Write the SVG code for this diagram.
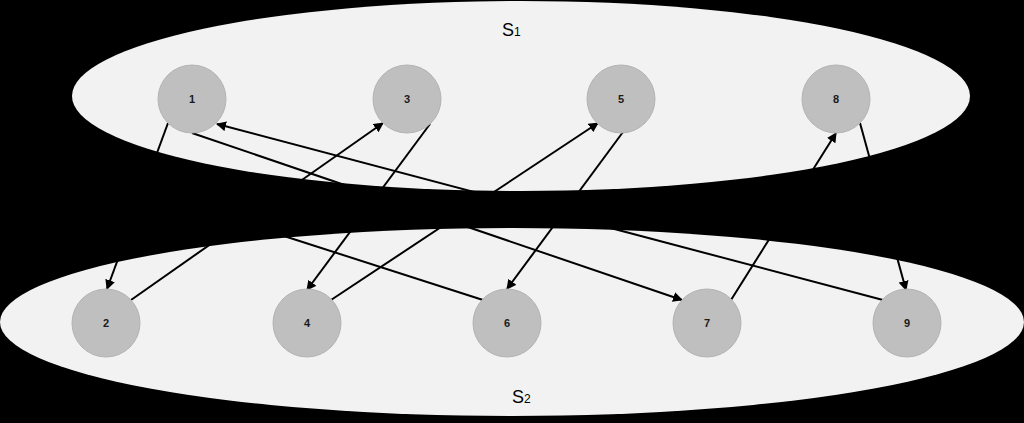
<svg xmlns="http://www.w3.org/2000/svg" width="1024" height="423" viewBox="0 0 1024 423">
<defs>
<style>
.set{fill:#f2f2f2;stroke:none}
.node circle{fill:#bfbfbf;stroke:#b3b3b3;stroke-width:1}
.node text{font-family:"Liberation Sans",Arial,sans-serif;font-size:11px;font-weight:bold;fill:#1a1a1a;text-anchor:middle}
.lbl{font-family:"Liberation Sans",Arial,sans-serif;font-size:18px;fill:#000}
.edge{stroke:#000;stroke-width:2;fill:none}
.arr{marker-end:url(#ah)}
</style>
<marker id="ah" viewBox="0 0 10 10" refX="9" refY="5" markerWidth="5" markerHeight="5" orient="auto" markerUnits="strokeWidth">
<path d="M0,0 L10,5 L0,10 z" fill="#000"/>
</marker>
</defs>
<rect x="0" y="0" width="1024" height="423" fill="#000"/>
<g id="set-s1">
<ellipse class="set" cx="521" cy="96" rx="449" ry="95"/>
<text class="lbl" x="502" y="36">S<tspan font-size="12">1</tspan></text>
</g>
<g id="set-s2">
<ellipse class="set" cx="512" cy="322" rx="512" ry="94"/>
<text class="lbl" x="512" y="403">S<tspan font-size="12">2</tspan></text>
</g>
<g id="connectors">
<line class="edge arr" x1="168" y1="123" x2="107" y2="289"/>
<line class="edge arr" x1="131" y1="300" x2="383" y2="123"/>
<line class="edge arr" x1="430" y1="124" x2="307" y2="290"/>
<line class="edge arr" x1="331" y1="300" x2="598" y2="123"/>
<line class="edge arr" x1="623" y1="132" x2="507" y2="289"/>
<line class="edge arr" x1="731" y1="300" x2="836" y2="133"/>
<line class="edge arr" x1="860" y1="123" x2="906" y2="290"/>
<line class="edge arr" x1="192" y1="133" x2="682" y2="300"/>
<line class="edge arr" x1="883" y1="300" x2="217" y2="124"/>
<line class="edge" x1="483" y1="300" x2="200" y2="209"/>
</g>
<g id="node-1" class="node"><circle cx="192" cy="99" r="34"/><text x="192" y="103">1</text></g>
<g id="node-3" class="node"><circle cx="407" cy="99" r="34"/><text x="407" y="103">3</text></g>
<g id="node-5" class="node"><circle cx="621" cy="99" r="34"/><text x="621" y="103">5</text></g>
<g id="node-8" class="node"><circle cx="836" cy="99" r="34"/><text x="836" y="103">8</text></g>
<g id="node-2" class="node"><circle cx="106" cy="323" r="34"/><text x="106" y="327">2</text></g>
<g id="node-4" class="node"><circle cx="307" cy="323" r="34"/><text x="307" y="327">4</text></g>
<g id="node-6" class="node"><circle cx="507" cy="323" r="34"/><text x="507" y="327">6</text></g>
<g id="node-7" class="node"><circle cx="707" cy="323" r="34"/><text x="707" y="327">7</text></g>
<g id="node-9" class="node"><circle cx="907" cy="323" r="34"/><text x="907" y="327">9</text></g>
</svg>
